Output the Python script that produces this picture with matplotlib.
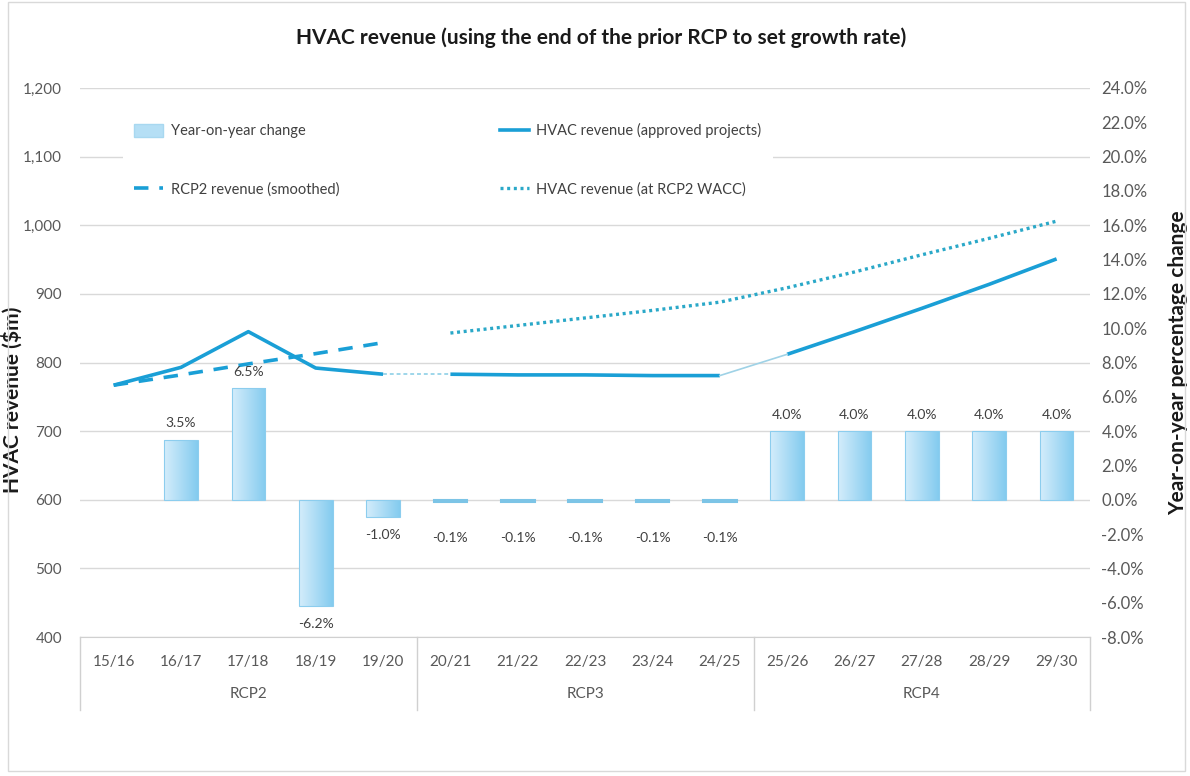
import numpy as np
import matplotlib
matplotlib.use('Agg')
import matplotlib.pyplot as plt
from matplotlib.patches import Patch, Rectangle
from matplotlib.lines import Line2D
from matplotlib.ticker import FuncFormatter, MultipleLocator

plt.rcParams['font.family'] = ['Lato', 'DejaVu Sans']

years = ['15/16', '16/17', '17/18', '18/19', '19/20',
         '20/21', '21/22', '22/23', '23/24', '24/25',
         '25/26', '26/27', '27/28', '28/29', '29/30']
periods = ['RCP2', 'RCP3', 'RCP4']

# year-on-year change (%)
yoy = [np.nan, 3.5, 6.5, -6.2, -1.0,
       -0.1, -0.1, -0.1, -0.1, -0.1,
       4.0, 4.0, 4.0, 4.0, 4.0]
yoy_labels = ['', '3.5%', '6.5%', '-6.2%', '-1.0%',
              '-0.1%', '-0.1%', '-0.1%', '-0.1%', '-0.1%',
              '4.0%', '4.0%', '4.0%', '4.0%', '4.0%']

# HVAC revenue, approved projects ($m)
approved = [767, 793, 845, 792, 783,
            783, 782, 782, 781, 781,
            812, 845, 879, 914, 951]
# RCP2 revenue smoothed ($m)
smoothed = [767, 782, 798, 813, 829]
# HVAC revenue at RCP2 WACC ($m), from 20/21
wacc = [843, 854, 865, 876, 888, 909, 932, 957, 981, 1006]

blue = '#1a9fd6'
teal = '#2aa8c8'
text_c = '#595959'

x = np.arange(len(years))

fig = plt.figure(figsize=(11.9, 7.76), dpi=100)
ax = fig.add_axes([0.0672, 0.179, 0.849, 0.7076])
ax2 = ax.twinx()

# left axis
ax.set_ylim(400, 1200)
ax.set_xlim(-0.5, len(years) - 0.5)
ax.yaxis.set_major_locator(MultipleLocator(100))
ax.yaxis.set_major_formatter(FuncFormatter(lambda v, p: f'{v:,.0f}'))
ax.grid(axis='y', color='#d9d9d9', lw=1)
ax.set_axisbelow(True)

# right axis
ax2.set_ylim(-8, 24)
ax2.yaxis.set_major_locator(MultipleLocator(2))
ax2.yaxis.set_major_formatter(FuncFormatter(lambda v, p: f'{v:.1f}%'))

for a in (ax, ax2):
    for s in a.spines.values():
        s.set_visible(False)
    a.tick_params(length=0, labelsize=11, labelcolor=text_c)
ax.tick_params(axis='y', pad=13)
ax2.tick_params(axis='y', pad=8, labelsize=12)
ax.spines['bottom'].set_visible(True)
ax.spines['bottom'].set_color('#d0d0d0')

# bars with a light horizontal gradient
bars = ax2.bar(x, yoy, width=0.5, color='none', edgecolor='#8ccdee', lw=0.8, zorder=3)
grad = np.linspace(0, 1, 64).reshape(1, -1)
cmap = matplotlib.colors.LinearSegmentedColormap.from_list('g', ['#d4edfb', '#84cbef'])
for b in bars:
    if np.isnan(b.get_height()):
        continue
    bx, by = b.get_x(), b.get_y()
    w, h = b.get_width(), b.get_height()
    im = ax2.imshow(grad, cmap=cmap, aspect='auto', zorder=2,
                    extent=[bx, bx + w, by, by + h], interpolation='bicubic')
    im.set_clip_path(b)
    if abs(h) < 0.3:
        b.set_edgecolor('#7cc4e6')
        b.set_linewidth(1.5)
ax2.set_xlim(-0.5, len(years) - 0.5)
ax2.set_ylim(-8, 24)

for xi, v, lab in zip(x, yoy, yoy_labels):
    if np.isnan(v):
        continue
    if v > 0:
        ax2.annotate(lab, (xi, v), xytext=(0, 12), textcoords='offset points',
                     ha='center', va='center', fontsize=10, color='#404040')
    else:
        yb = min(v, -1.0)
        ax2.annotate(lab, (xi, yb), xytext=(0, -13 if v < -0.5 else -15),
                     textcoords='offset points',
                     ha='center', va='center', fontsize=10, color='#404040')

# lines on left axis
ax.plot(x[:5], approved[:5], color=blue, lw=2.6, solid_capstyle='butt', zorder=4)
ax.plot(x[5:10], approved[5:10], color=blue, lw=2.6, solid_capstyle='butt', zorder=4)
ax.plot(x[10:], approved[10:], color=blue, lw=2.6, solid_capstyle='butt', zorder=4)
ax.plot(x[4:6], approved[4:6], color='#9ed6ea', lw=1.4, ls=(0, (2, 1.5)), zorder=4)
ax.plot(x[9:11], approved[9:11], color='#9fd2e6', lw=1.2, zorder=4)
ax.plot(x[:5], smoothed, color=blue, lw=2.6, ls=(0, (4, 3)), zorder=4)
ax.plot(x[5:], wacc, color=teal, lw=2.4, ls=(0, (0.9, 1.1)), zorder=4)

# x tick labels and groups
ax.set_xticks(x)
ax.set_xticklabels(years, fontsize=11, color=text_c)
ax.tick_params(axis='x', pad=13)
trans = ax.get_xaxis_transform()
for xs in [-0.5, 4.5, 9.5, 14.5]:
    ax.plot([xs, xs], [0, -0.133], transform=trans, color='#d0d0d0', lw=1, clip_on=False)
for i, name in enumerate(periods):
    ax.text(2 + 5 * i, -0.104, name, transform=trans, ha='center', va='center',
            fontsize=11, color=text_c)

# axis labels and title
ax.set_ylabel('HVAC revenue ($m)', fontsize=15, fontweight='bold', color='#1a1a1a')
ax.yaxis.set_label_coords(-0.057, 0.432)
ax2.set_ylabel('Year-on-year percentage change', fontsize=15, fontweight='bold',
               color='#1a1a1a')
ax2.yaxis.set_label_coords(1.077, 0.5)
fig.text(0.505, 0.951, 'HVAC revenue (using the end of the prior RCP to set growth rate)',
         ha='center', va='center', fontsize=15, fontweight='bold', color='#1a1a1a')

# legend
handles = [Patch(facecolor='#b5dff5', edgecolor='#a8d8f0'),
           Line2D([], [], color=blue, lw=2.6, ls=(0, (4, 3))),
           Line2D([], [], color=blue, lw=2.6),
           Line2D([], [], color=teal, lw=2.4, ls=(0, (0.9, 1.1)))]
labels = ['Year-on-year change', 'RCP2 revenue (smoothed)',
          'HVAC revenue (approved projects)', 'HVAC revenue (at RCP2 WACC)']
leg = ax2.legend(handles, labels, ncol=2, loc='upper left',
                 bbox_to_anchor=(0.035, 0.97), fontsize=10.5, frameon=True,
                 facecolor='white', edgecolor='none', framealpha=1,
                 handlelength=2.0, handleheight=0.9, labelspacing=3.0,
                 columnspacing=11.0, borderpad=0.8, handletextpad=0.5,
                 labelcolor='#404040')
leg.set_zorder(10)

fig.patches.append(Rectangle((0.007, 0.007), 0.989, 0.99, transform=fig.transFigure,
                             fill=False, edgecolor='#d9d9d9', lw=1))

fig.savefig('out.png', dpi=100)
